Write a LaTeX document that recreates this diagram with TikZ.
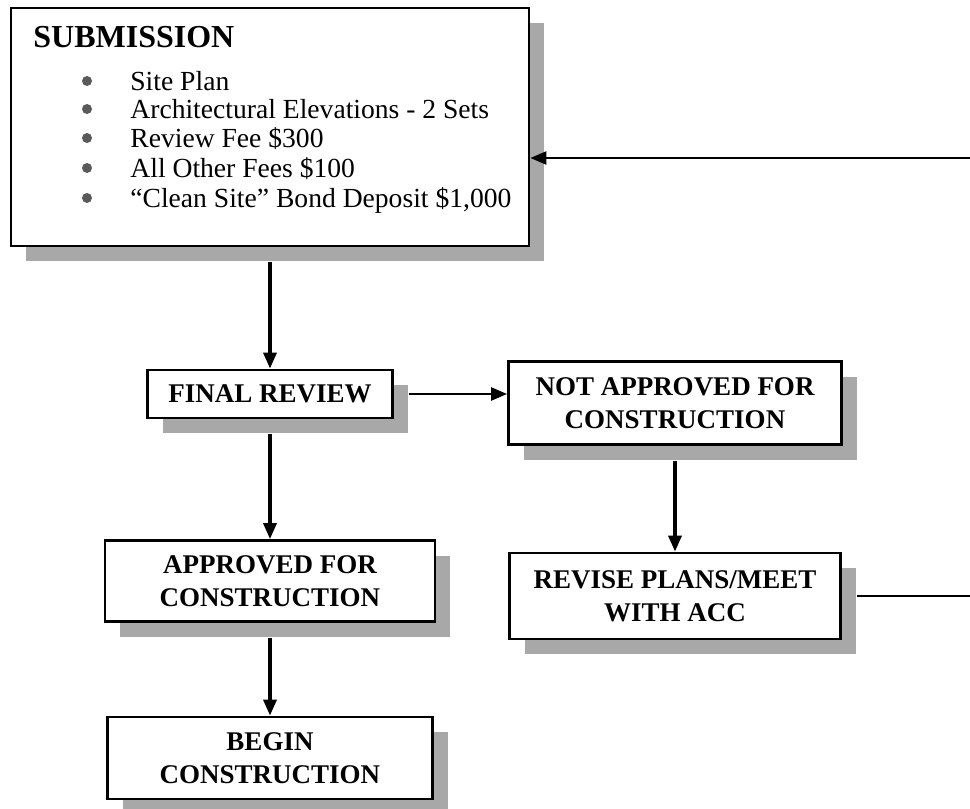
\documentclass[tikz,border=0pt]{standalone}
\usepackage{fontspec}
\setmainfont{Liberation Serif}
\usetikzlibrary{arrows.meta, positioning, calc, shadows}
\definecolor{shade}{RGB}{168,168,168}
\definecolor{dotgray}{RGB}{90,90,90}

\begin{document}
\begin{tikzpicture}[x=0.5pt, y=-0.5pt,
  stepbox/.style={draw, line width=1.4pt, fill=white, inner sep=2pt, align=center,
    font=\bfseries\fontsize{13.5}{16.5}\selectfont,
    drop shadow={shadow xshift=7.5pt, shadow yshift=-7.5pt, fill=shade, opacity=1}},
  item/.style={anchor=base west, inner sep=0pt, font=\fontsize{13.8}{15}\selectfont},
  flow/.style={-{Triangle[length=8pt, width=6.5pt]}, line width=1.7pt},
  back/.style={line width=1.2pt}]
  \useasboundingbox (0,0) rectangle (970,809);
  % submission box with its list
  \node[stepbox, minimum width=259pt, minimum height=119pt] (sub) at (270,127) {};
  \node[anchor=base west, inner sep=0pt, font=\bfseries\fontsize{16}{18}\selectfont] (subtitle) at (33,47) {SUBMISSION};
  \node[item] (i1) at (130,90) {Site Plan};
  \node[item] (i2) at (130,118) {Architectural Elevations - 2 Sets};
  \node[item] (i3) at (130,147) {Review Fee \$300};
  \node[item] (i4) at (130,177) {All Other Fees \$100};
  \node[item] (i5) at (130,207) {“Clean Site” Bond Deposit \$1,000};
  % bullets
  \fill[dotgray] (i1.base west) ++(-43,-9) circle (2.5pt);
  \fill[dotgray] (i2.base west) ++(-43,-9) circle (2.5pt);
  \fill[dotgray] (i3.base west) ++(-43,-9) circle (2.5pt);
  \fill[dotgray] (i4.base west) ++(-43,-9) circle (2.5pt);
  \fill[dotgray] (i5.base west) ++(-43,-9) circle (2.5pt);
  % review steps
  \node[stepbox, minimum width=122.5pt, minimum height=24pt] (final) at (270,394) {FINAL REVIEW};
  \node[stepbox, minimum width=166.5pt, minimum height=41.5pt] (notapp) at (675,403) {NOT APPROVED FOR\\CONSTRUCTION};
  \node[stepbox, minimum width=165pt, minimum height=40.5pt] (approved) at (270,581) {APPROVED FOR\\CONSTRUCTION};
  \node[stepbox, minimum width=165.5pt, minimum height=43pt] (revise) at (675,596) {REVISE PLANS/MEET\\WITH ACC};
  \node[stepbox, minimum width=162.5pt, minimum height=41pt] (begin) at (270,758) {BEGIN\\CONSTRUCTION};
  % connectors
  \coordinate (rtop) at (970,158);
  \coordinate (rbot) at (970,596);
  \draw[flow, shorten <=7.5pt] (sub.south -| final.north) -- (final.north);
  \draw[flow, shorten <=7.5pt] (final.south) -- (approved.north);
  \draw[flow, shorten <=7.5pt] (approved.south) -- (begin.north);
  \draw[flow, line width=1.2pt, shorten <=7.5pt] (final.east) -- (final.east -| notapp.west);
  \draw[flow, shorten <=7.5pt] (notapp.south) -- (revise.north);
  \draw[back, shorten <=7.5pt] (revise.east) -- (revise.east -| rbot);
  \draw[flow, line width=1.2pt] (rtop) -- (rtop -| sub.east);
\end{tikzpicture}
\end{document}
